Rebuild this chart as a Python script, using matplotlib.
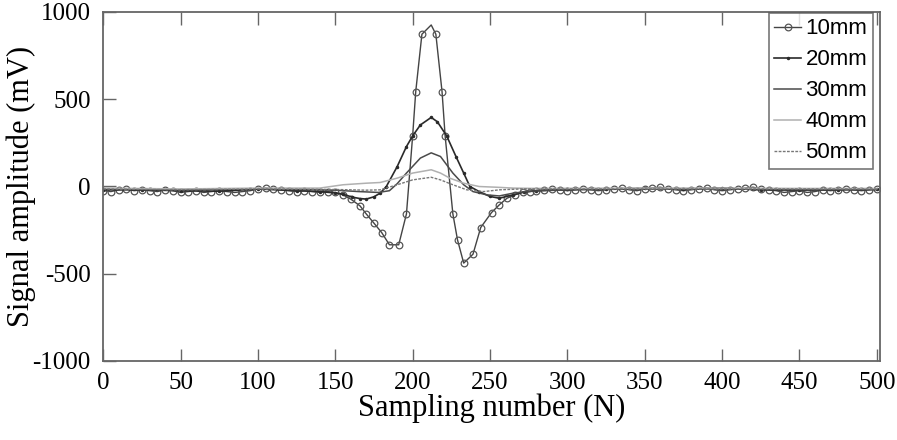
import matplotlib
matplotlib.use("Agg")
import matplotlib.pyplot as plt

plt.rcParams['axes.unicode_minus'] = False

# valores
x10 = [0, 5, 10, 15, 20, 25, 30, 35, 40, 45, 50, 55, 60, 65, 70, 75, 80, 85, 90, 95,
       100, 105, 110, 115, 120, 125, 130, 135, 140, 145,
       150, 155, 160, 166, 170, 175, 180, 185, 191, 196, 200, 202, 206, 212, 215, 219,
       221, 226, 229, 233, 239, 244, 251, 256, 261, 266, 271, 276,
       280, 285, 290, 295, 300, 305, 310, 315, 320, 325, 330, 335, 340, 345, 350, 355,
       360, 365, 370, 375, 380, 385, 390, 395, 400, 405, 410, 415, 420, 425, 430, 435,
       440, 445, 450, 455, 460, 465, 470, 475, 480, 485, 490, 495, 500]
y10 = [-25, -30, -20, -15, -25, -20, -25, -30, -20, -25, -35, -30, -25, -35, -30, -25,
       -30, -35, -30, -25, -15, -10, -15, -20, -25, -30, -25, -30, -35, -30,
       -35, -49, -73, -112, -158, -211, -265, -335, -335, -158, 289, 543, 872, 925, 872, 543,
       289, -158, -307, -440, -389, -236, -150, -106, -68, -49, -35, -30,
       -25, -20, -15, -20, -25, -20, -15, -20, -25, -20, -15, -10, -20, -25, -15, -10,
       -5, -15, -20, -25, -20, -15, -10, -20, -25, -20, -15, -10, -5, -15, -20, -25,
       -35, -30, -25, -35, -30, -20, -25, -20, -15, -20, -25, -20, -15]
sin_marca = [43]  # el vertice no lleva circulo

x20 = [0, 25, 50, 75, 100, 125, 140, 150, 155, 161, 166, 170, 175, 179, 183, 190, 196,
       200, 205, 212, 216, 222, 228, 233, 237, 243, 250, 256, 265, 272, 280, 300, 325,
       350, 375, 400, 425, 450, 475, 500]
y20 = [-20, -20, -25, -28, -15, -25, -30, -38, -45, -62, -70, -73, -60, -39, -1, 113, 228,
       289, 352, 395, 370, 289, 171, 76, -1, -30, -58, -68, -49, -32, -25, -18, -15,
       -12, -15, -10, -20, -22, -20, -18]

x30 = [0, 50, 100, 150, 165, 178, 185, 190, 196, 205, 212, 218, 226, 233, 239, 248,
       256, 265, 275, 300, 350, 400, 450, 500]
y30 = [-15, -20, -15, -22, -30, -35, -25, 15, 76, 162, 192, 171, 76, 9, -30, -49,
       -55, -39, -28, -20, -15, -15, -20, -18]

x40 = [0, 50, 100, 140, 155, 170, 179, 190, 200, 212, 218, 224, 233, 243, 254, 265,
       280, 350, 400, 450, 500]
y40 = [-10, -15, -10, -10, 9, 18, 22, 47, 76, 95, 76, 47, 18, -1, -5, -10,
       -12, -10, -10, -12, -12]

x50 = [0, 50, 100, 150, 170, 179, 190, 200, 212, 218, 226, 235, 246, 256, 270, 350,
       450, 500]
y50 = [-15, -20, -15, -18, -22, -20, 9, 37, 52, 37, 9, -20, -30, -20, -15, -15,
       -15, -15]

fig = plt.figure(figsize=(8.97, 4.4), dpi=100)
ax = fig.add_axes([0.115, 0.18, 0.866, 0.793])

marcas = [i for i in range(len(x10)) if i not in sin_marca]
ax.plot(x10, y10, color='#444444', lw=1.0, marker='o', markersize=4.8,
        markerfacecolor='none', markeredgecolor='#555555', markeredgewidth=0.9,
        markevery=marcas, label='10mm')
ax.plot(x20, y20, color='#2a2a2a', lw=1.2, marker='.', markersize=3, label='20mm')
ax.plot(x30, y30, color='#4a4a4a', lw=1.1, label='30mm')
ax.plot(x40, y40, color='#b0b0b0', lw=1.1, label='40mm')
ax.plot(x50, y50, color='#777777', lw=1.0, linestyle=(0, (2, 1)), label='50mm')

ax.set_xlim(0, 502)
ax.set_ylim(-1000, 1000)
ax.set_xticks([0, 50, 100, 150, 200, 250, 300, 350, 400, 450, 500])
ax.set_yticks([-1000, -500, 0, 500, 1000])
ax.tick_params(direction='in', top=True, right=False, length=9, width=1,
               color='#666666', labelsize=18)
ax.tick_params(axis='x', pad=8)
ax.tick_params(axis='y', pad=9)
for lab in ax.get_xticklabels() + ax.get_yticklabels():
    lab.set_fontfamily('Liberation Serif')
for s in ax.spines.values():
    s.set_color('#666666')
    s.set_linewidth(1.3)

ax.set_xlabel('Sampling number (N)', fontsize=22, family='Liberation Serif', labelpad=0)
ax.set_ylabel('Signal amplitude (mV)', fontsize=22, family='Liberation Serif')
ax.yaxis.set_label_coords(-0.087, 0.5)

leg = ax.legend(loc='upper right', prop={'family': 'Liberation Sans', 'size': 16},
                fancybox=False, edgecolor='#555555', handlelength=1.2,
                handletextpad=0.2, labelspacing=0.45, borderpad=0.25,
                borderaxespad=0.0, bbox_to_anchor=(0.991, 0.997))
leg.get_frame().set_linewidth(1.2)

fig.savefig('out.png', dpi=100)
